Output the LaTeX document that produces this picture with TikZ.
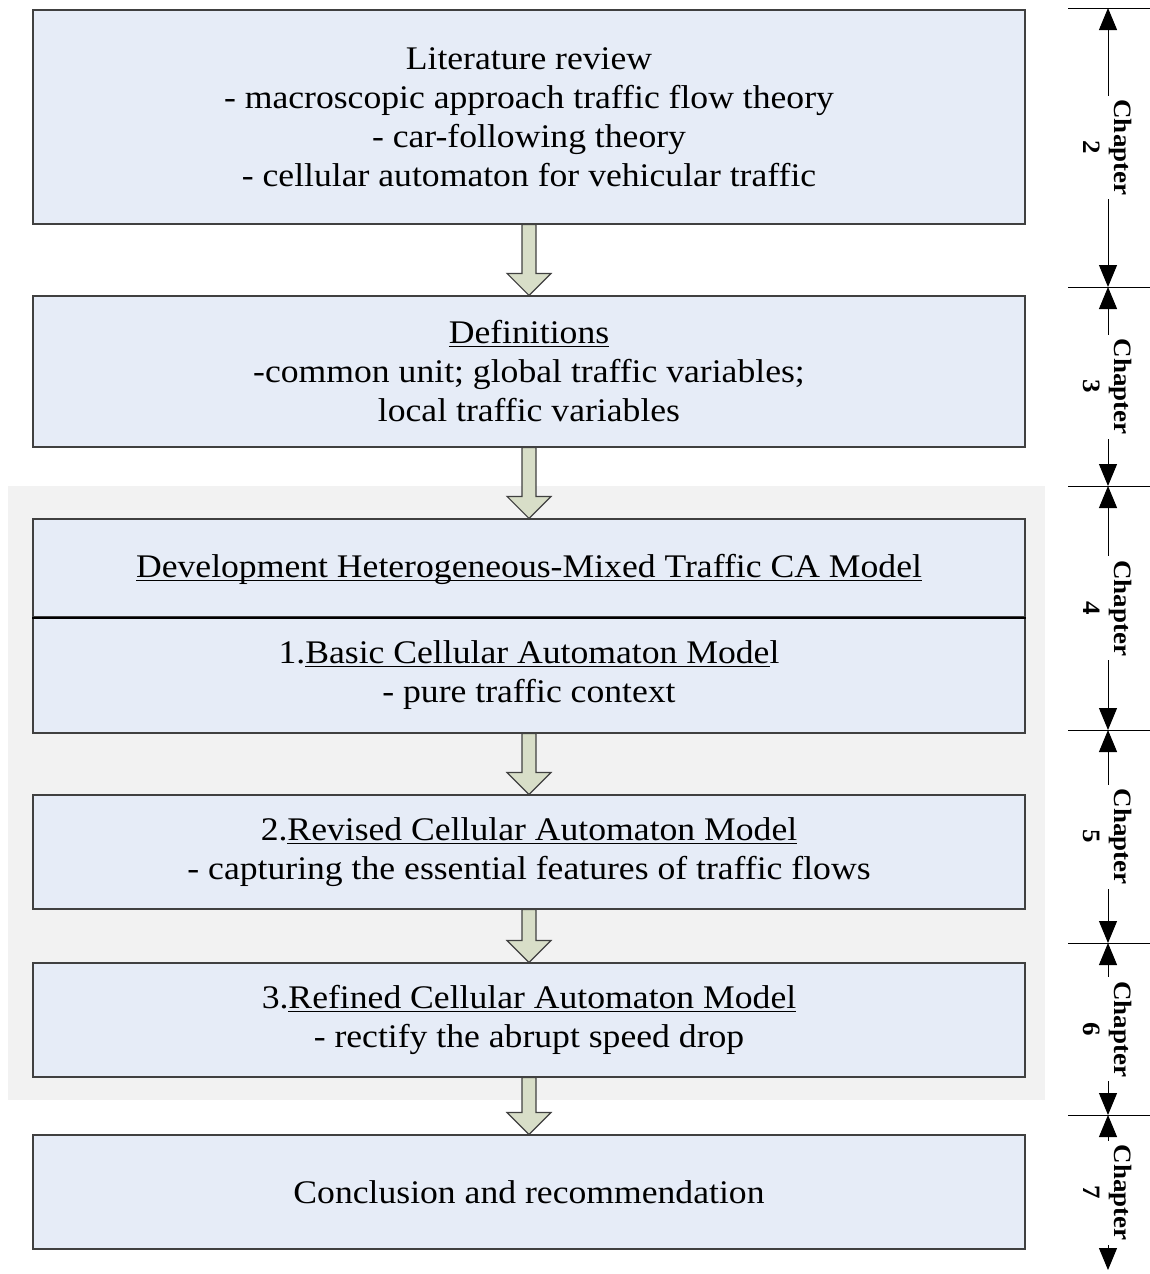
\documentclass[tikz,border=0pt]{standalone}
\usepackage{fontspec}
\setmainfont{Liberation Serif}[FakeStretch=1.08]
\usetikzlibrary{arrows.meta,calc}
\newcommand\ulx[1]{\underline{\raisebox{0pt}[\height][0pt]{#1}}}
\definecolor{boxfill}{RGB}{230,236,247}
\definecolor{bgfill}{RGB}{242,242,242}
\definecolor{arrfill}{RGB}{216,222,200}
\definecolor{edge}{RGB}{64,64,64}
\newcommand\blockarrow[2]{%
  \path[fill=arrfill,draw=edge,line width=0.6pt] let \p1=(#1.south), \p2=(#2.north) in
    (\x1-3.5pt,\y1) -- (\x1-3.5pt,\y2+11pt) -- (\x1-11pt,\y2+11pt) -- (\x1,\y2)
    -- (\x1+11pt,\y2+11pt) -- (\x1+3.5pt,\y2+11pt) -- (\x1+3.5pt,\y1) -- cycle;}
\begin{document}
\begin{tikzpicture}[x=0.5pt,y=-0.5pt,
  box/.style={draw=edge,line width=0.6pt,fill=boxfill,minimum width=496pt,align=center,
    font=\fontsize{16.5}{19.5}\selectfont,inner sep=0pt},
  chap/.style={rotate=-90,align=center,font=\fontsize{12.5}{15.5}\selectfont\bfseries,
    fill=white,inner sep=2pt},
  dimline/.style={line width=0.5pt,{Triangle[length=11pt,width=9pt]}-{Triangle[length=11pt,width=9pt]}},
  tickline/.style={line width=0.5pt}]
\useasboundingbox (0,0) rectangle (1150,1274);
\fill[bgfill] (8,486) rectangle (1045,1100);

\node[box,minimum height=107pt] (lit) at (529,117)
  {Literature review\\- macroscopic approach traffic flow theory\\- car-following theory\\- cellular automaton for vehicular traffic};
\node[box,minimum height=75.5pt] (def) at (529,371.5)
  {\ulx{Definitions}\\-common unit; global traffic variables;\\local traffic variables};
\node[box,minimum height=49pt] (dev) at (529,568)
  {\ulx{Development Heterogeneous-Mixed Traffic CA Model}};
\node[box,minimum height=58pt] (basic) at (529,675)
  {1.\ulx{Basic Cellular Automaton Mode}l\\- pure traffic context};
\draw[line width=1.1pt,black] (dev.south west) -- (dev.south east);
\node[box,minimum height=57pt] (rev) at (529,852)
  {2.\ulx{Revised Cellular Automaton Model}\\- capturing the essential features of traffic flows};
\node[box,minimum height=57pt] (ref) at (529,1020)
  {3.\ulx{Refined Cellular Automaton Model}\\- rectify the abrupt speed drop};
\node[box,minimum height=57pt] (con) at (529,1192)
  {Conclusion and recommendation};

\blockarrow{lit}{def}
\blockarrow{def}{dev}
\blockarrow{basic}{rev}
\blockarrow{rev}{ref}
\blockarrow{ref}{con}

% dimension lines
\coordinate (t2) at (1108,8);
\coordinate (t3) at (1108,287);
\coordinate (t4) at (1108,486);
\coordinate (t5) at (1108,730);
\coordinate (t6) at (1108,943);
\coordinate (t7) at (1108,1115);
\coordinate (tend) at (1108,1270);
\foreach \t in {t2,t3,t4,t5,t6,t7}
  \draw[tickline] ([xshift=-20pt]\t) -- ([xshift=21pt]\t);
\draw[dimline] (t2) -- (t3);
\draw[dimline] (t3) -- (t4);
\draw[dimline] (t4) -- (t5);
\draw[dimline] (t5) -- (t6);
\draw[dimline] (t6) -- (t7);
\draw[dimline] (t7) -- (tend);
\node[chap] (c2) at ($(t2)!0.5!(t3)$) {Chapter\\2};
\node[chap] (c3) at ($(t3)!0.5!(t4)$) {Chapter\\3};
\node[chap] (c4) at ($(t4)!0.5!(t5)$) {Chapter\\4};
\node[chap] (c5) at ($(t5)!0.5!(t6)$) {Chapter\\5};
\node[chap] (c6) at ($(t6)!0.5!(t7)$) {Chapter\\6};
\node[chap] (c7) at ($(t7)!0.5!(tend)$) {Chapter\\7};
\end{tikzpicture}
\end{document}
